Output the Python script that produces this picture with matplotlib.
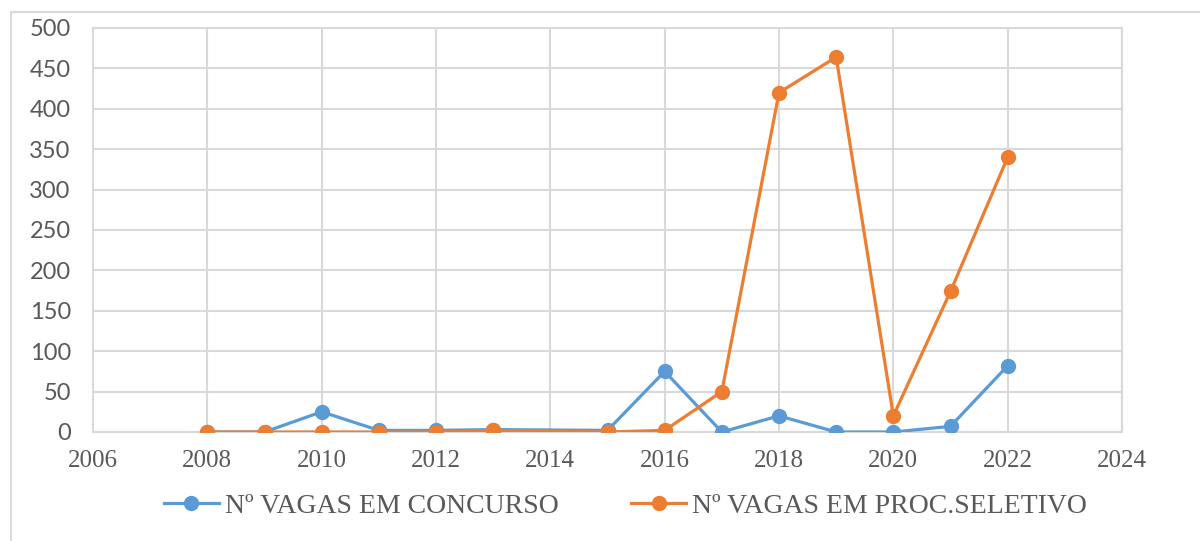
#!/usr/bin/env python3
import matplotlib
matplotlib.use("Agg")
import matplotlib.pyplot as plt
from matplotlib.patches import Rectangle

# vagas por ano (2014 sem dado)
anos = [2008, 2009, 2010, 2011, 2012, 2013, 2015, 2016, 2017, 2018, 2019, 2020, 2021, 2022]
concurso = [0, 0, 25, 2, 2, 3, 2, 75, 0, 20, 0, 0, 7, 82]
proc_seletivo = [0, 0, 0, 0, 0, 2, 0, 2, 50, 420, 464, 20, 174, 340]

label_concurso = "Nº VAGAS EM CONCURSO"
label_seletivo = "Nº VAGAS EM PROC.SELETIVO"

blue = "#5B9BD5"
orange = "#ED7D31"
grid_c = "#D9D9D9"

fig = plt.figure(figsize=(12, 5.41), dpi=100)
ax = fig.add_axes([93/1200, 1-432/541, (1122-93)/1200, (432-28)/541])

# moldura externa (so topo e esquerda aparecem)
fig.patches.append(Rectangle((11/1200, -0.1), 1.2, 1.1 - 12/541,
                             transform=fig.transFigure, fill=False,
                             edgecolor="#D9D9D9", linewidth=1.5))

ax.plot(anos, concurso, color=blue, linewidth=2.3, marker="o", markersize=10,
        label=label_concurso, zorder=3)
ax.plot(anos, proc_seletivo, color=orange, linewidth=2.3, marker="o", markersize=10,
        label=label_seletivo, zorder=4)

ax.set_xlim(2006, 2024)
ax.set_ylim(0, 500)
ax.set_xticks(range(2006, 2025, 2))
ax.set_yticks(range(0, 501, 50))
ax.grid(True, color=grid_c, linewidth=1.5)
ax.set_axisbelow(True)
for s in ax.spines.values():
    s.set_color(grid_c)
    s.set_linewidth(1.5)
ax.tick_params(length=0, colors="#595959")
ax.tick_params(axis="x", pad=13)
ax.tick_params(axis="y", pad=16)
for t in ax.get_xticklabels():
    t.set_fontfamily("Liberation Serif")
    t.set_fontsize(18)
for t in ax.get_yticklabels():
    t.set_fontfamily("Lato")
    t.set_fontsize(17)

leg = fig.legend(loc="center", bbox_to_anchor=(0.521, 1-506/541), ncol=2,
                 frameon=False, handlelength=2.0, handletextpad=0.2,
                 columnspacing=2.6,
                 prop={"family": "Liberation Serif", "size": 20})
for t in leg.get_texts():
    t.set_color("#595959")

plt.savefig("out.png", dpi=100)
